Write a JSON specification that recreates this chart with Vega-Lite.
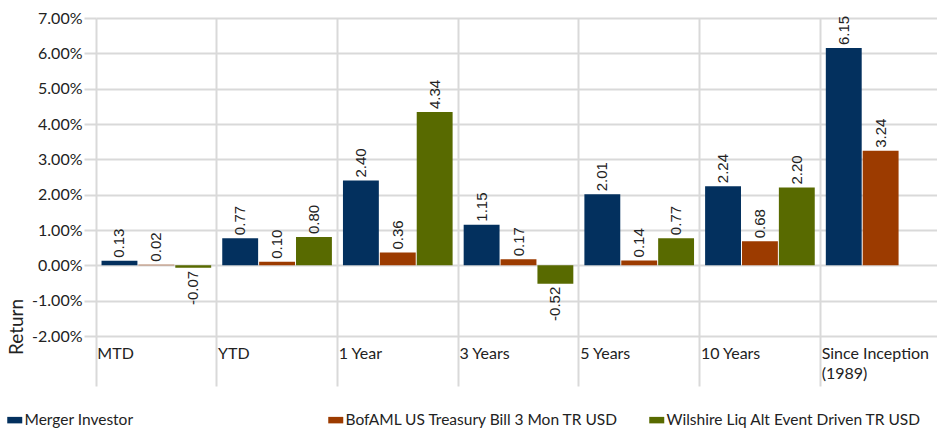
{
  "$schema": "https://vega.github.io/schema/vega-lite/v6.json",
  "width": 845,
  "height": 318,
  "autosize": {"type": "none"},
  "padding": {"left": 96, "top": 18, "right": -4, "bottom": 92},
  "config": {"view": {"stroke": null}, "font": "Lato"},
  "data": {
    "values": [
      {"period": "MTD", "series": "Merger Investor", "value": 0.13},
      {"period": "MTD", "series": "BofAML US Treasury Bill 3 Mon TR USD", "value": 0.02},
      {"period": "MTD", "series": "Wilshire Liq Alt Event Driven TR USD", "value": -0.07},
      {"period": "YTD", "series": "Merger Investor", "value": 0.77},
      {"period": "YTD", "series": "BofAML US Treasury Bill 3 Mon TR USD", "value": 0.10},
      {"period": "YTD", "series": "Wilshire Liq Alt Event Driven TR USD", "value": 0.80},
      {"period": "1 Year", "series": "Merger Investor", "value": 2.40},
      {"period": "1 Year", "series": "BofAML US Treasury Bill 3 Mon TR USD", "value": 0.36},
      {"period": "1 Year", "series": "Wilshire Liq Alt Event Driven TR USD", "value": 4.34},
      {"period": "3 Years", "series": "Merger Investor", "value": 1.15},
      {"period": "3 Years", "series": "BofAML US Treasury Bill 3 Mon TR USD", "value": 0.17},
      {"period": "3 Years", "series": "Wilshire Liq Alt Event Driven TR USD", "value": -0.52},
      {"period": "5 Years", "series": "Merger Investor", "value": 2.01},
      {"period": "5 Years", "series": "BofAML US Treasury Bill 3 Mon TR USD", "value": 0.14},
      {"period": "5 Years", "series": "Wilshire Liq Alt Event Driven TR USD", "value": 0.77},
      {"period": "10 Years", "series": "Merger Investor", "value": 2.24},
      {"period": "10 Years", "series": "BofAML US Treasury Bill 3 Mon TR USD", "value": 0.68},
      {"period": "10 Years", "series": "Wilshire Liq Alt Event Driven TR USD", "value": 2.20},
      {"period": "Since Inception (1989)", "series": "Merger Investor", "value": 6.15},
      {"period": "Since Inception (1989)", "series": "BofAML US Treasury Bill 3 Mon TR USD", "value": 3.24}
    ]
  },
  "encoding": {
    "x": {
      "field": "period",
      "type": "nominal",
      "sort": null,
      "scale": {"paddingInner": 0, "paddingOuter": 0},
      "axis": {
        "title": null,
        "bandPosition": 0,
        "grid": true,
        "gridColor": "#d9d9d9",
        "gridWidth": 2,
        "ticks": true,
        "tickSize": 50,
        "tickColor": "#d9d9d9",
        "tickWidth": 2,
        "domain": false,
        "labelAlign": "left",
        "labelBaseline": "top",
        "labelPadding": -41,
        "labelOffset": -59,
        "labelAngle": 0,
        "labelFont": "Lato",
        "labelFontSize": 16,
        "labelColor": "#222222",
        "labelLineHeight": 20,
        "labelFlush": false,
        "labelOverlap": false,
        "labelBound": false,
        "labelLimit": 300,
        "labelExpr": "datum.value == 'Since Inception (1989)' ? ['Since Inception', '(1989)'] : datum.label"
      }
    },
    "xOffset": {
      "field": "series",
      "type": "nominal",
      "sort": ["Merger Investor", "BofAML US Treasury Bill 3 Mon TR USD", "Wilshire Liq Alt Event Driven TR USD"],
      "scale": {"paddingInner": 0.027, "paddingOuter": 0.15}
    },
    "y": {
      "field": "value",
      "type": "quantitative",
      "scale": {"domain": [-2, 7], "nice": false},
      "axis": {
        "values": [-2, -1, 0, 1, 2, 3, 4, 5, 6, 7],
        "grid": true,
        "gridColor": "#d9d9d9",
        "gridWidth": 2,
        "tickSize": 12,
        "tickColor": "#d9d9d9",
        "tickWidth": 2,
        "domain": false,
        "labelPadding": 2,
        "labelFont": "Lato",
        "labelFontSize": 16,
        "labelColor": "#222222",
        "labelExpr": "replace(format(datum.value, '.2f'), '\u2212', '-') + '%'",
        "title": "Return",
        "titleFont": "Lato",
        "titleFontSize": 19,
        "titleFontWeight": "normal",
        "titleColor": "#222222",
        "titleAngle": -90,
        "titleAlign": "center",
        "titleBaseline": "middle",
        "titleX": -79.5,
        "titleY": 308.5
      }
    }
  },
  "layer": [
    {
      "mark": {"type": "bar"},
      "encoding": {
        "color": {
          "field": "series",
          "type": "nominal",
          "scale": {
            "domain": ["Merger Investor", "BofAML US Treasury Bill 3 Mon TR USD", "Wilshire Liq Alt Event Driven TR USD"],
            "range": ["#03305E", "#9C3B00", "#586A00"]
          },
          "legend": {
            "orient": "none",
            "legendX": -89,
            "legendY": 394,
            "direction": "horizontal",
            "columns": 3,
            "gridAlign": "all",
            "title": null,
            "symbolType": "M-1,-0.433H1V0.433H-1Z",
            "symbolSize": 225,
            "symbolStrokeWidth": 0,
            "labelFont": "Lato",
            "labelFontSize": 15.5,
            "labelColor": "#222222",
            "labelLimit": 600,
            "labelOffset": 2,
            "columnPadding": 30
          }
        }
      }
    },
    {
      "transform": [{"filter": "datum.value >= 0"}],
      "mark": {"type": "text", "angle": -90, "align": "left", "baseline": "middle", "dx": 3, "font": "Liberation Sans", "fontSize": 15, "fill": "#222222"},
      "encoding": {"text": {"field": "value", "type": "quantitative", "format": ".2f"}}
    },
    {
      "transform": [
        {"filter": "datum.value < 0"},
        {"calculate": "replace(format(datum.value, '.2f'), '\u2212', '-')", "as": "label"}
      ],
      "mark": {"type": "text", "angle": -90, "align": "right", "baseline": "middle", "dx": -3, "font": "Liberation Sans", "fontSize": 15, "fill": "#222222"},
      "encoding": {"text": {"field": "label", "type": "nominal"}}
    }
  ]
}
